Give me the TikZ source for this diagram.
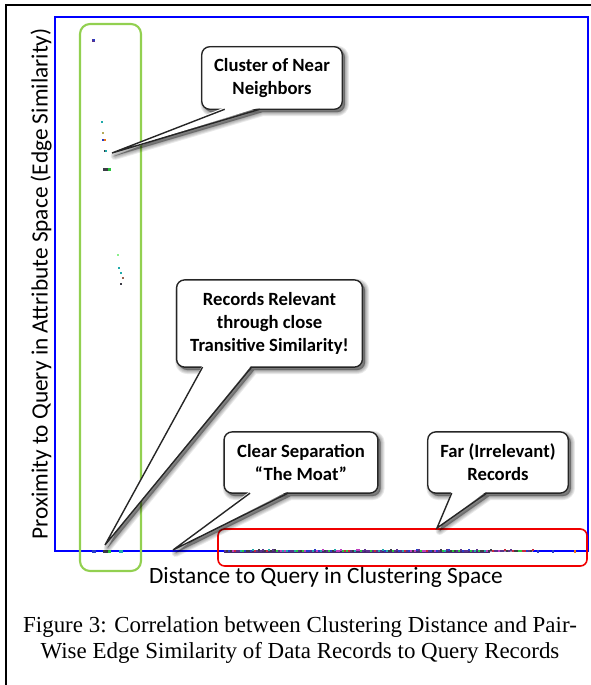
\documentclass[tikz,border=0pt]{standalone}
\usepackage{fontspec}
\setmainfont{Liberation Serif}
\newfontfamily\calibri{Carlito}
\usetikzlibrary{calc}

\definecolor{axisblue}{RGB}{0,0,255}
\definecolor{groupgreen}{RGB}{146,208,80}
\definecolor{farred}{RGB}{240,0,0}
\definecolor{ptpurple}{RGB}{90,50,140}
\definecolor{ptblue}{RGB}{40,60,200}
\definecolor{ptgreen}{RGB}{40,200,60}
\definecolor{ptred}{RGB}{200,40,60}
\definecolor{ptteal}{RGB}{30,170,170}
\definecolor{ptdark}{RGB}{60,60,70}
\definecolor{ptbrown}{RGB}{150,100,80}
\definecolor{ptolive}{RGB}{180,170,90}
\definecolor{ptorange}{RGB}{240,120,20}
\definecolor{ptmagenta}{RGB}{190,60,190}
\definecolor{ptlime}{RGB}{140,240,140}

\pgfmathdeclarerandomlist{stripcolors}{{ptpurple}{ptpurple}{ptblue}{ptdark}{ptgreen}{ptred}{ptmagenta}{ptteal}{ptpurple}{ptdark}}

\tikzset{
  axisline/.style={draw=axisblue, line width=1.1pt},
  groupbox/.style={draw=groupgreen, line width=1.6pt, rounded corners=7.5pt},
  farbox/.style={draw=farred, line width=1.2pt, rounded corners=5pt},
  callbox/.style={draw=black!85, line width=1.05pt, fill=white, rounded corners=6pt,
    align=center, inner sep=0pt, font=\calibri\bfseries\fontsize{14}{17.3}\selectfont},
  tailline/.style={draw=black!85, line width=1.05pt, line join=miter},
  shadowpass/.style={transform canvas={xshift=2pt, yshift=-2.2pt},
    fill=black, draw=black, opacity=0.085, line width=#1pt, line join=round},
  axislabel/.style={font=\calibri\fontsize{17.5}{20}\selectfont},
  caption/.style={align=center, font=\fontsize{17.2}{19}\selectfont}
}

\begin{document}
\begin{tikzpicture}[x=0.75pt,y=-0.75pt]
\useasboundingbox (0,0) rectangle (591,685);
\fill[white] (0,0) rectangle (591,685);

% page frame
\draw[black, line width=1.6pt] (6,685) -- (6,5) -- (591,5);
% plot area
\draw[axisline] (55,551) -- (55,17) -- (588,17) -- (588,551) -- cycle;

% near neighbours
\foreach \x/\y/\w/\h/\c in {
    92/39/2.5/3.5/ptpurple, 93/39.5/1.5/2/ptblue,
    101/121/2/2/ptteal, 102/132/2/2/ptolive,
    102/139/2/2/ptblue, 104/139/1.5/2/ptorange,
    104/150/3/2/ptdark, 105/150/1.5/2/ptteal,
    103/168/6/2.5/ptdark, 108/168/2.5/2.5/ptgreen,
    117/254/2/2/ptlime, 118/267/2/2/ptteal, 120/272/2/2/ptteal,
    122/277/2/2/ptbrown, 120/283/2/2/ptdark,
    92/550/4/2.5/ptblue, 103/549.5/7/3/ptdark, 108/550/3/2.5/ptgreen,
    119/550/4/2.5/ptteal,
    537/550/2/2.5/ptblue, 552/550/2/2.5/ptblue, 574/550/2/2.5/ptorange}
  \fill[\c] (\x,\y) rectangle ++(\w,\h);

% far records
\fill[ptpurple!80!black] (224,549.5) rectangle (490,552.5);
\fill[ptpurple!60] (490,549.8) rectangle (533,552.2);
\pgfmathsetseed{11}
\foreach \i in {0,...,154} {
  \pgfmathrandomitem{\c}{stripcolors}
  \pgfmathsetmacro{\xx}{224+2*\i}
  \pgfmathsetmacro{\yy}{549.3+rnd*1.2}
  \fill[\c] (\xx,\yy) rectangle ++(2,2);
}

% groups
\draw[groupbox] (80,24) rectangle (141,571);
\draw[farbox] (218,529) rectangle (587,566);

% axis labels
\node[axislabel, rotate=90] (ylab) at (41,284) {Proximity to Query in Attribute Space (Edge Similarity)};
\node[axislabel] (xlab) at (326,577) {Distance to Query in Clustering Space};

% callout boxes (placed first as empty frames so their anchors exist)
\path node[minimum width=105pt, minimum height=46.5pt, inner sep=0pt] (c1) at (272,78) {}
      node[minimum width=139pt, minimum height=65pt, inner sep=0pt] (c2) at (269.5,323.5) {}
      node[minimum width=115pt, minimum height=45.5pt, inner sep=0pt] (c3) at (301,462.5) {}
      node[minimum width=105pt, minimum height=45.5pt, inner sep=0pt] (c4) at (498,462.5) {};

% tail tips
\coordinate (c1T) at (112,153);
\coordinate (c2T) at (105,545);
\coordinate (c3T) at (173,550);
\coordinate (c4T) at (437,528);

% tail bases on the lower edges
\coordinate (c1L) at ($(c1.south west)+(23,0)$);
\coordinate (c1R) at ($(c1.south west)+(58,0)$);
\coordinate (c2L) at ($(c2.south west)+(26,0)$);
\coordinate (c2R) at ($(c2.south west)+(75,0)$);
\coordinate (c3L) at ($(c3.south west)+(26,0)$);
\coordinate (c3R) at ($(c3.south west)+(64,0)$);
\coordinate (c4L) at ($(c4.south west)+(24,0)$);
\coordinate (c4R) at ($(c4.south west)+(59,0)$);

% soft drop shadows
\foreach \b in {c1,c2,c3,c4} {
  \foreach \w in {6,4.5,3,1.5,0.2} {
    \path[shadowpass=\w] [rounded corners=6pt] (\b.south west) rectangle (\b.north east)
         [sharp corners] (\b L) -- (\b T) -- (\b R) -- cycle;
  }
}

% callout bodies
\foreach \b in {c1,c2,c3,c4} {
  \draw[callbox] (\b.south west) rectangle (\b.north east);
  \fill[white] ($(\b L)+(0,-2)$) -- (\b T) -- ($(\b R)+(0,-2)$) -- cycle;
  \draw[tailline] (\b L) -- (\b T) -- (\b R);
}

% callout texts
\node[callbox, draw=none, fill=none] (c1text) at (c1) {Cluster of Near\\Neighbors};
\node[callbox, draw=none, fill=none] (c2text) at (c2) {Records Relevant\\through close\\Transitive Similarity!};
\node[callbox, draw=none, fill=none] (c3text) at (c3) {Clear Separation\\“The Moat”};
\node[callbox, draw=none, fill=none] (c4text) at (c4) {Far (Irrelevant)\\Records};

% caption
\node[caption] (cap) at (300,640) {Figure 3: Correlation between Clustering Distance and Pair-\\Wise Edge Similarity of Data Records to Query Records};
\end{tikzpicture}
\end{document}
